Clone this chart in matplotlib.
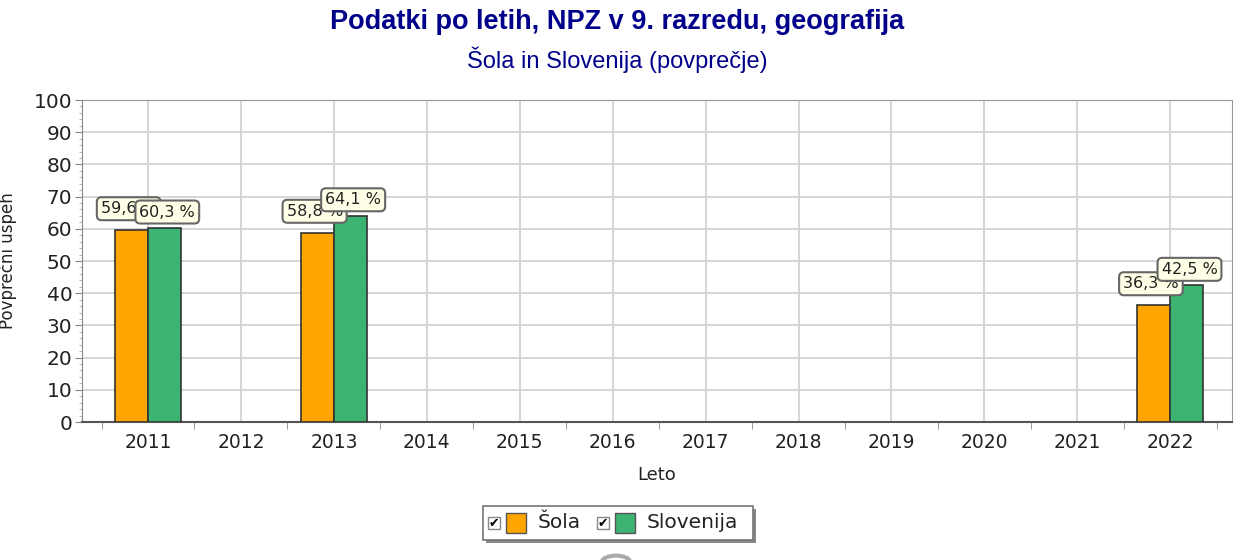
import numpy as np
import matplotlib.pyplot as plt
from matplotlib.patches import Rectangle, Circle
from matplotlib.ticker import MultipleLocator, FixedLocator

years = ["2011", "2012", "2013", "2014", "2015", "2016", "2017", "2018", "2019", "2020", "2021", "2022"]
sola = [59.6, None, 58.8, None, None, None, None, None, None, None, None, 36.3]
slovenija = [60.3, None, 64.1, None, None, None, None, None, None, None, None, 42.5]
series_names = ["Šola", "Slovenija"]
colors = ["#ffa500", "#3cb371"]

TITLE = "Podatki po letih, NPZ v 9. razredu, geografija"
SUBTITLE = "Šola in Slovenija (povprečje)"
NAVY = "#00008b"

fig = plt.figure(figsize=(12.34, 5.6), dpi=100)
ax = fig.add_axes([0.0665, 0.2464, 0.9315, 0.575])

x = np.arange(len(years))
w = 0.355
for off, vals, c in [(-w / 2, sola, colors[0]), (w / 2, slovenija, colors[1])]:
    idx = [i for i, v in enumerate(vals) if v is not None]
    hv = [vals[i] for i in idx]
    ax.bar(x[idx] + off, hv, width=w, color=c, edgecolor="#333333", linewidth=1.2, zorder=3)

# value labels (Šola first, Slovenija drawn on top)
box = dict(boxstyle="round,pad=0.25,rounding_size=0.3", fc="#ffffe8", ec="#666666", lw=1.5)
for i, v in enumerate(sola):
    if v is None:
        continue
    ax.annotate(f"{v:.1f} %".replace(".", ","), (x[i] - w / 2, v), xytext=(-2, 10),
                textcoords="offset points", ha="center", va="bottom", fontsize=11.5,
                color="#222222", bbox=box, zorder=5)
for i, v in enumerate(slovenija):
    if v is None:
        continue
    ax.annotate(f"{v:.1f} %".replace(".", ","), (x[i] + w / 2, v), xytext=(2, 6),
                textcoords="offset points", ha="center", va="bottom", fontsize=11.5,
                color="#222222", bbox=box, zorder=6)

ax.set_xlim(-0.71, len(years) - 1 + 0.66)
ax.set_ylim(0, 100)
ax.yaxis.set_major_locator(MultipleLocator(10))
ax.yaxis.set_minor_locator(MultipleLocator(2))
ax.set_xticks(x)
ax.set_xticklabels(years)
ax.xaxis.set_minor_locator(FixedLocator(np.arange(-0.5, len(years), 1.0)))
ax.tick_params(axis="x", which="major", length=0, labelsize=13.5, pad=8, labelcolor="#222222")
ax.tick_params(axis="x", which="minor", length=5, color="#888888")
ax.tick_params(axis="y", which="major", length=5, labelsize=14.5, color="#888888", labelcolor="#222222", pad=2)
ax.tick_params(axis="y", which="minor", length=2, color="#aaaaaa")
ax.grid(True, which="major", color="#d3d3d3", linewidth=1.3, zorder=0)
for s in ["top", "right"]:
    ax.spines[s].set_color("#999999")
ax.spines["left"].set_color("#888888")
ax.spines["bottom"].set_color("#555555")
ax.spines["bottom"].set_linewidth(1.5)
ax.set_xlabel("Leto", fontsize=13, color="#222222", labelpad=10)
ax.set_ylabel("Povprečni uspeh", fontsize=12, color="#222222")
ax.yaxis.set_label_coords(-0.0565, 0.5)

fig.text(0.5, 0.96, TITLE, ha="center", va="center", fontsize=19.5, fontweight="bold",
         color=NAVY, family="Liberation Sans")
fig.text(0.5, 0.893, SUBTITLE, ha="center", va="center", fontsize=17,
         color=NAVY, family="Liberation Sans")

# legend box with checkboxes
W, H = 1234, 560
def px(xp, yp):
    return xp / W, 1 - yp / H
lx0, ly0 = px(483, 540)
fig.patches.append(Rectangle((lx0 + 3 / W, ly0 - 3 / H), 270 / W, 34 / H, transform=fig.transFigure,
                             fc="#888888", ec="none", zorder=1))
fig.patches.append(Rectangle((lx0, ly0), 270 / W, 34 / H, transform=fig.transFigure,
                             fc="white", ec="#777777", lw=1.2, zorder=2))
for k, (name, c, xs) in enumerate(zip(series_names, colors, [488, 597])):
    cx, cy = px(xs, 529)
    fig.patches.append(Rectangle((cx, cy), 12 / W, 12 / H, transform=fig.transFigure,
                                 fc="white", ec="#888888", lw=1, zorder=3))
    fig.text(cx + 6 / W, cy + 6 / H, "✔", ha="center", va="center", fontsize=9,
             color="black", zorder=4)
    sx, sy = px(xs + 18, 533)
    fig.patches.append(Rectangle((sx, sy), 20 / W, 20 / H, transform=fig.transFigure,
                                 fc=c, ec="#555555", lw=1, zorder=3))
    tx, ty = px(xs + 50, 523)
    fig.text(tx, ty, name, ha="left", va="center", fontsize=14.5, color="#222222", zorder=4)

fig.patches.append(Circle(px(616, 562), 14 / W, transform=fig.transFigure, fc="none",
                          ec="#aaaaaa", lw=3, zorder=1))

fig.savefig("out.png", dpi=100)
